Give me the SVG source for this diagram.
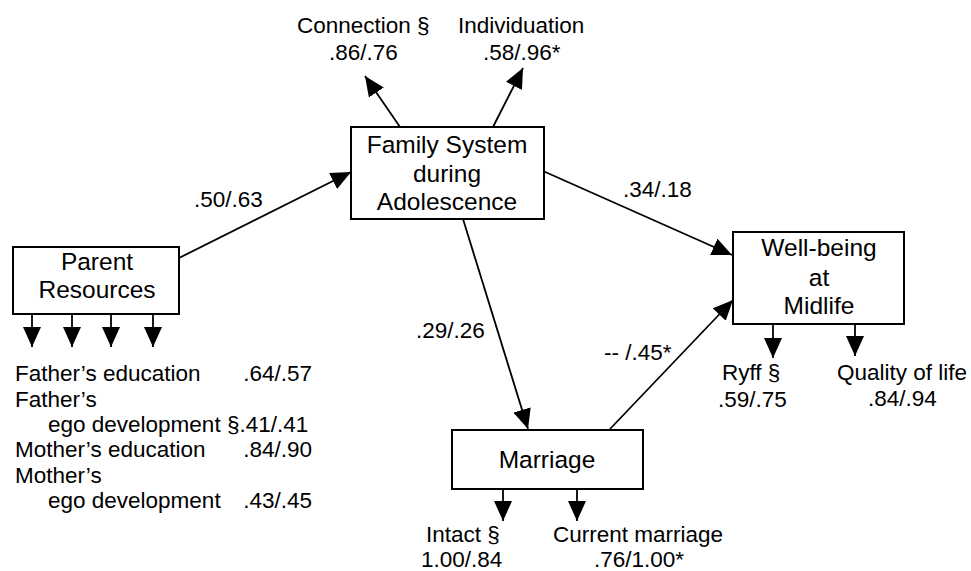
<svg xmlns="http://www.w3.org/2000/svg" width="971" height="571" viewBox="0 0 971 571">
<defs>
<marker id="arr" viewBox="0 0 20 18" markerWidth="20" markerHeight="18" refX="20" refY="9" orient="auto" markerUnits="userSpaceOnUse">
<path d="M0,0 L20,9 L0,18 z" fill="#000"/>
</marker>
<style>
.box{fill:#fff;stroke:#000;stroke-width:2}
.bt{font-family:"Liberation Sans",Arial,sans-serif;font-size:24.5px;fill:#000;text-anchor:middle}
.lb{font-family:"Liberation Sans",Arial,sans-serif;font-size:22.5px;fill:#000}
.end{text-anchor:end}
.con{stroke:#000;stroke-width:1.8;fill:none;marker-end:url(#arr)}
</style>
</defs>
<rect width="971" height="571" fill="#fff"/>

<g id="connectors">
<line class="con" x1="179" y1="258" x2="351" y2="172"/>
<line class="con" x1="400" y1="127" x2="365" y2="76"/>
<line class="con" x1="493" y1="127" x2="523" y2="68"/>
<line class="con" x1="543" y1="171" x2="732" y2="255"/>
<line class="con" x1="463" y1="219" x2="528" y2="429"/>
<line class="con" x1="610" y1="429" x2="733" y2="300"/>
<line class="con" x1="32" y1="314" x2="32" y2="347"/>
<line class="con" x1="72" y1="314" x2="72" y2="347"/>
<line class="con" x1="111" y1="314" x2="111" y2="347"/>
<line class="con" x1="153" y1="314" x2="153" y2="347"/>
<line class="con" x1="773" y1="324" x2="773" y2="358"/>
<line class="con" x1="855" y1="324" x2="855" y2="356"/>
<line class="con" x1="503" y1="489" x2="503" y2="521"/>
<line class="con" x1="577" y1="489" x2="577" y2="521"/>
</g>

<g id="family">
<rect class="box" x="351" y="127" width="193" height="92"/>
<text class="bt" x="447" y="153">Family System</text>
<text class="bt" x="447" y="182">during</text>
<text class="bt" x="447" y="210">Adolescence</text>
</g>

<g id="parent">
<rect class="box" x="13" y="247" width="166" height="67"/>
<text class="bt" x="97" y="270">Parent</text>
<text class="bt" x="97" y="298">Resources</text>
</g>

<g id="wellbeing">
<rect class="box" x="733" y="232" width="171" height="92"/>
<text class="bt" x="819" y="256">Well-being</text>
<text class="bt" x="819" y="286">at</text>
<text class="bt" x="819" y="314">Midlife</text>
</g>

<g id="marriage">
<rect class="box" x="452" y="430" width="191" height="59"/>
<text class="bt" x="547" y="468">Marriage</text>
</g>

<g id="labels">
<text class="lb" x="297" y="33">Connection §</text>
<text class="lb" x="329" y="60">.86/.76</text>
<text class="lb" x="458" y="33">Individuation</text>
<text class="lb" x="483" y="60">.58/.96*</text>
<text class="lb" x="194" y="207">.50/.63</text>
<text class="lb" x="623" y="197">.34/.18</text>
<text class="lb" x="416" y="338">.29/.26</text>
<text class="lb" x="604" y="360">-- /.45*</text>
<text class="lb" x="722" y="380">Ryff §</text>
<text class="lb" x="718" y="407">.59/.75</text>
<text class="lb" x="837" y="380">Quality of life</text>
<text class="lb" x="868" y="406">.84/.94</text>
<text class="lb" x="426" y="542">Intact §</text>
<text class="lb" x="421" y="567">1.00/.84</text>
<text class="lb" x="553" y="542">Current marriage</text>
<text class="lb" x="594" y="567">.76/1.00*</text>
</g>

<g id="indicators">
<text class="lb" x="15" y="381">Father’s education</text>
<text class="lb end" x="312" y="381">.64/.57</text>
<text class="lb" x="15" y="407">Father’s</text>
<text class="lb" x="48" y="432">ego development §.41/.41</text>
<text class="lb" x="15" y="457">Mother’s education</text>
<text class="lb end" x="312" y="457">.84/.90</text>
<text class="lb" x="15" y="483">Mother’s</text>
<text class="lb" x="48" y="508">ego development</text>
<text class="lb end" x="312" y="508">.43/.45</text>
</g>
</svg>
